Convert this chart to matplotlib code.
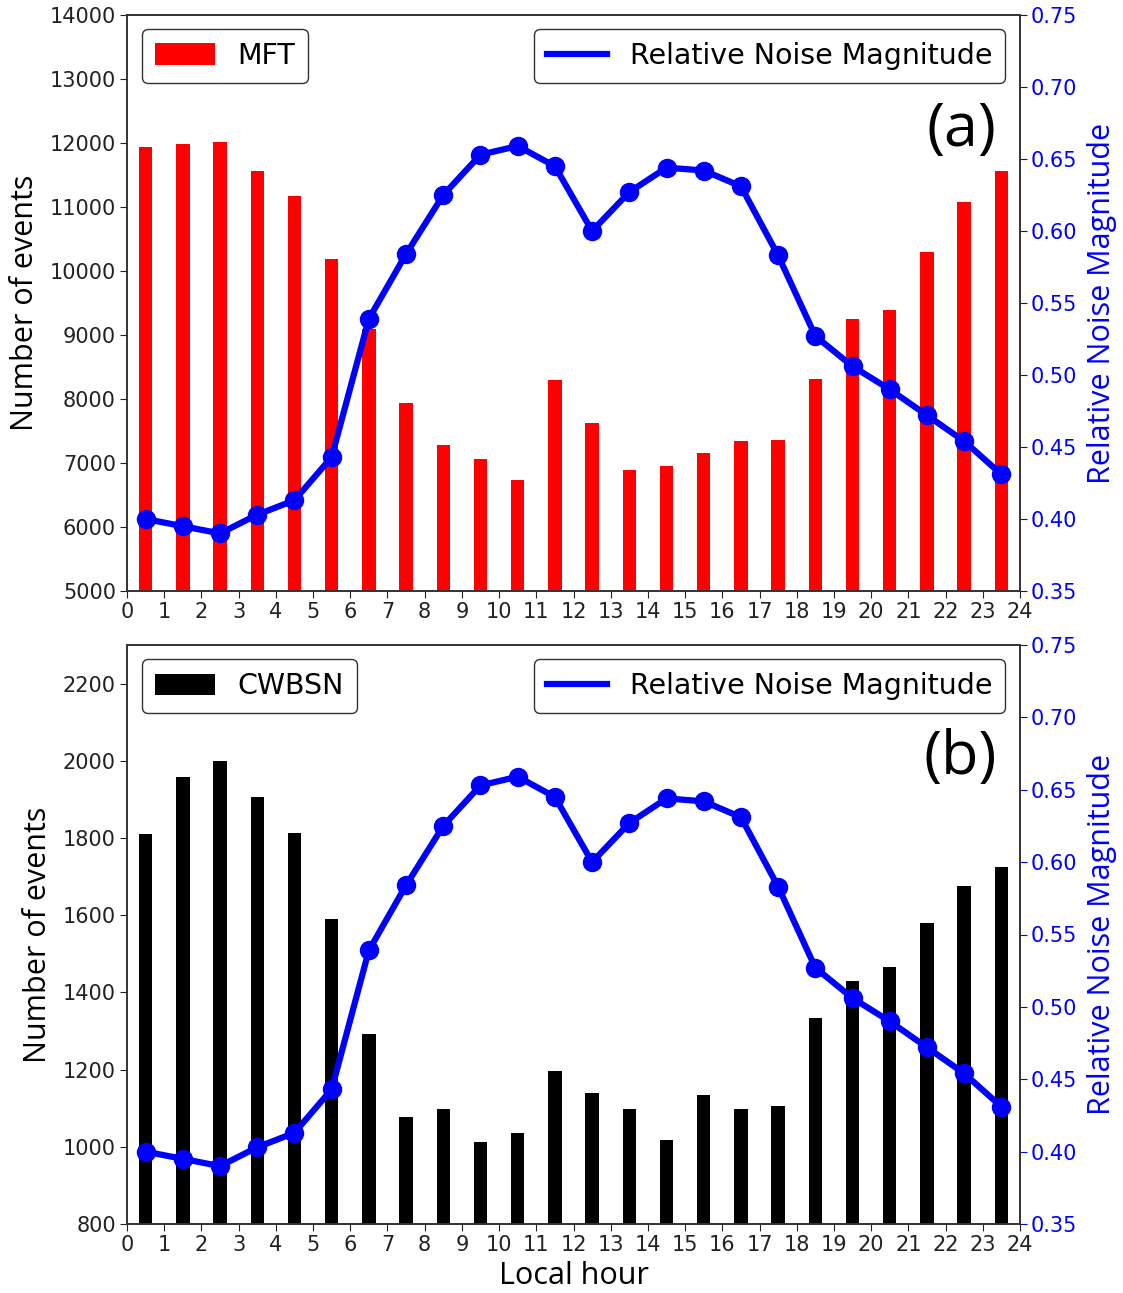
import matplotlib
matplotlib.use("Agg")
import matplotlib.pyplot as plt
from matplotlib import font_manager
from matplotlib.lines import Line2D
import numpy as np

# Hourly event counts (bars centred on each local hour)
hours = np.arange(24) + 0.5
mft_counts = [11930, 11980, 12020, 11560, 11170, 10190, 9090, 7930, 7280, 7060,
              6730, 8300, 7620, 6890, 6950, 7150, 7350, 7360, 8310, 9250,
              9390, 10290, 11080, 11570]
cwbsn_counts = [1810, 1957, 2000, 1905, 1812, 1590, 1293, 1077, 1098, 1013,
                1036, 1197, 1139, 1098, 1018, 1135, 1097, 1105, 1334, 1430,
                1465, 1580, 1676, 1725]
# Relative noise magnitude per local hour
noise_mag = [0.400, 0.395, 0.390, 0.403, 0.413, 0.443, 0.539, 0.584, 0.625, 0.653,
             0.659, 0.645, 0.600, 0.627, 0.644, 0.642, 0.631, 0.583, 0.527, 0.506,
             0.490, 0.472, 0.454, 0.431]

W, H = 1123, 1293
fig = plt.figure(figsize=(W / 100, H / 100), dpi=100)

try:
    _path = font_manager.findfont("Open Sans", fallback_to_default=False)
    label_font = font_manager.FontProperties(fname=_path).get_name()
except Exception:
    label_font = "DejaVu Sans"

tick_fs = 15
legend_fs = 20.5
axis_label_fs = 22
line_color = "#0000ff"


def panel(rect, counts, bar_color, bar_label, ylim, yticks, tag, tag_y):
    ax = fig.add_axes(rect)
    ax.bar(hours, counts, width=0.36, color=bar_color, label=bar_label, zorder=2)
    ax.set_xlim(0, 24)
    ax.set_xticks(range(25))
    ax.set_ylim(*ylim)
    ax.set_yticks(yticks)
    ax.tick_params(labelsize=tick_fs, colors="#222222", length=5, pad=3)
    ax.set_ylabel("Number of events", fontsize=axis_label_fs, family=label_font,
                  labelpad=7)
    for s in ax.spines.values():
        s.set_color("#333333")
        s.set_linewidth(1.2)
    ax.legend(loc="upper left", fontsize=legend_fs, handlelength=2.1,
              handleheight=0.8, borderpad=0.45, borderaxespad=0, fancybox=True,
              edgecolor="#333333", framealpha=1, bbox_to_anchor=(0.017, 0.975))

    ax2 = ax.twinx()
    ax2.plot(hours, noise_mag, color=line_color, lw=4.5, marker="o", ms=13,
             zorder=3)
    ax2.set_ylim(0.35, 0.75)
    ax2.set_yticks(np.arange(0.35, 0.751, 0.05))
    ax2.yaxis.set_major_formatter(matplotlib.ticker.FormatStrFormatter("%.2f"))
    ax2.tick_params(axis="y", labelsize=tick_fs, colors=line_color, length=5, pad=3)
    ax2.set_ylabel("Relative Noise Magnitude", fontsize=axis_label_fs,
                   family=label_font, color=line_color, labelpad=7)
    for s in ax2.spines.values():
        s.set_color("#333333")
        s.set_linewidth(1.2)
    handle = Line2D([], [], color=line_color, lw=4.5)
    ax2.legend([handle], ["Relative Noise Magnitude"], loc="upper right",
               fontsize=legend_fs, handlelength=2.1, borderpad=0.45,
               borderaxespad=0, fancybox=True, edgecolor="#333333",
               framealpha=1, bbox_to_anchor=(0.983, 0.975))
    ax2.text(0.974, tag_y, tag, transform=ax2.transAxes, ha="right", va="center",
             fontsize=44, family=label_font)
    return ax


ax_top = panel([127 / W, 1 - 591 / H, 893 / W, 576 / H], mft_counts, "#ff0000",
               "MFT", (5000, 14000), range(5000, 14001, 1000), "(a)", 0.80)
ax_bot = panel([127 / W, 1 - 1224 / H, 893 / W, 579 / H], cwbsn_counts, "#000000",
               "CWBSN", (800, 2300), range(800, 2201, 200), "(b)", 0.805)
ax_bot.set_xlabel("Local hour", fontsize=axis_label_fs, family=label_font,
                  labelpad=4)

fig.savefig("out.png", dpi=100)
